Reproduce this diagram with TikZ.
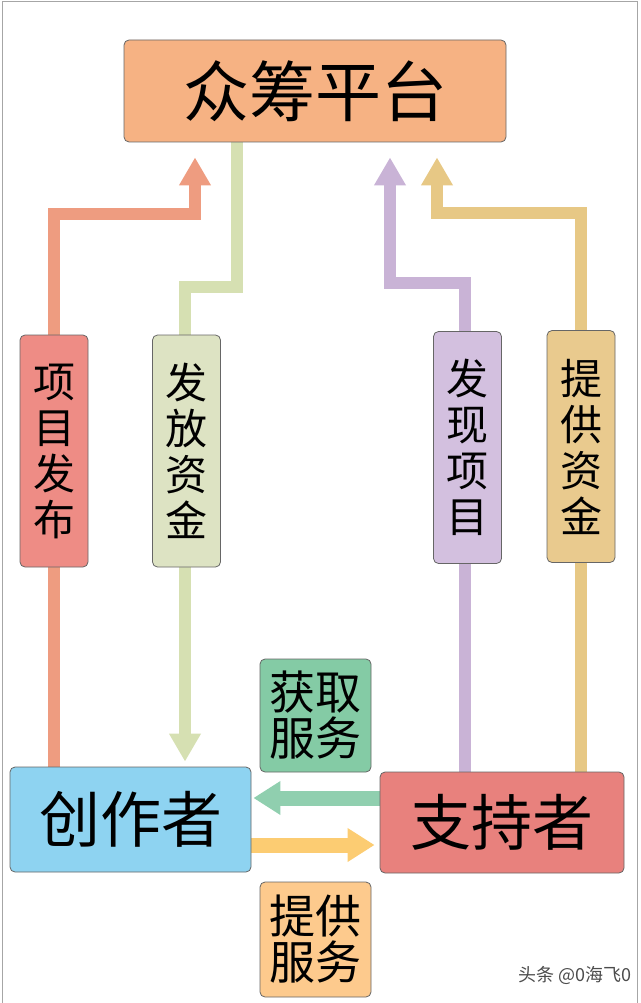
\documentclass[tikz,border=0pt]{standalone}
\usepackage{fontspec}
\setmainfont{Noto Sans CJK SC}
\usepackage{tikz}
\usetikzlibrary{arrows.meta,backgrounds}
\definecolor{platFill}{HTML}{F6B283}
\definecolor{salLine}{HTML}{EE9C80}
\definecolor{salFill}{HTML}{EE8C85}
\definecolor{lgLine}{HTML}{D6E0B2}
\definecolor{lgFill}{HTML}{DDE3C3}
\definecolor{puLine}{HTML}{C9B3D6}
\definecolor{puFill}{HTML}{D3C0DF}
\definecolor{tnLine}{HTML}{E7C885}
\definecolor{tnFill}{HTML}{E9CA8E}
\definecolor{czFill}{HTML}{8ED3F1}
\definecolor{zcFill}{HTML}{E8817D}
\definecolor{hqFill}{HTML}{84CBA5}
\definecolor{hqLine}{HTML}{90CFAF}
\definecolor{tgFill}{HTML}{FDCA8D}
\definecolor{tgLine}{HTML}{FCCC72}
\newcommand{\fsz}[2]{\fontsize{#1pt}{#2pt}\selectfont}
\tikzset{
  box/.style={draw=black!60, line width=0.8pt, rounded corners=5pt, inner sep=0pt, align=center},
  tag/.style={box, minimum width=68pt, minimum height=232pt, font=\fsz{42}{46}},
  pipe/.style={line width=12pt, line join=miter, -{Triangle[width=30pt,length=28pt]}},
  flat/.style={line width=15pt, -{Triangle[width=32pt,length=27pt]}}
}

\begin{document}
\begin{tikzpicture}[x=1pt, y=-1pt]
  \useasboundingbox (0,0) rectangle (640,1003);
  \draw[black!35, line width=1pt] (2,1003) -- (2,2) -- (637,2) -- (637,1003);
  % main boxes
  \node[box, fill=platFill, minimum width=382pt, minimum height=102pt, font=\fsz{66}{70}] (pt) at (315,91) {众筹平台};
  \node[box, fill=czFill, minimum width=241pt, minimum height=105pt, font=\fsz{61}{64}] (cz) at (130.5,819.5) {创作者};
  \node[box, fill=zcFill, minimum width=244pt, minimum height=101pt, font=\fsz{61}{64}] (zc) at (502,822.5) {支持者};
  % vertical tags
  \node[tag, fill=salFill] (xmfb) at (54,451) {项\\目\\发\\布};
  \node[tag, fill=lgFill] (ffzj) at (186.5,451) {发\\放\\资\\金};
  \node[tag, fill=puFill] (fxxm) at (467.5,447.5) {发\\现\\项\\目};
  \node[tag, fill=tnFill] (tgzj) at (581,446.5) {提\\供\\资\\金};
  % service tags
  \node[box, fill=hqFill, minimum width=111pt, minimum height=113pt, font=\fsz{46}{46}] (hqfw) at (315.5,715.5) {获取\\服务};
  \node[box, fill=tgFill, minimum width=111pt, minimum height=115pt, font=\fsz{46}{46}] (tgfw) at (315.5,939.5) {提供\\服务};
  % bends
  \coordinate (k1) at (195,214);
  \coordinate (g1) at (237,287);
  \coordinate (g2) at (185,287);
  \coordinate (p1) at (390,283);
  \coordinate (t1) at (437,213);
  \begin{pgfonlayer}{background}
    \draw[pipe, salLine, shorten >=15pt] (cz.north -| xmfb) |- (k1) -- (k1 |- pt.south);
    \draw[pipe, lgLine, shorten >=5pt] (g1 |- pt.south) -- (g1) -- (g2) -- (g2 |- cz.north);
    \draw[pipe, puLine, shorten >=15pt] (zc.north -| 465,0) |- (p1) -- (p1 |- pt.south);
    \draw[pipe, tnLine, shorten >=15pt] (zc.north -| tgzj) |- (t1) -- (t1 |- pt.south);
    \draw[flat, hqLine, shorten >=2pt] (zc.west |- 0,798) -- (cz.east |- 0,798);
    \draw[flat, tgLine, shorten >=5pt] (cz.east |- 0,845) -- (zc.west |- 0,845);
  \end{pgfonlayer}
  % watermark
  \node[black!70, font=\fsz{18}{20}] (wm) at (575,975) {头条 @0海飞0};
\end{tikzpicture}
\end{document}
